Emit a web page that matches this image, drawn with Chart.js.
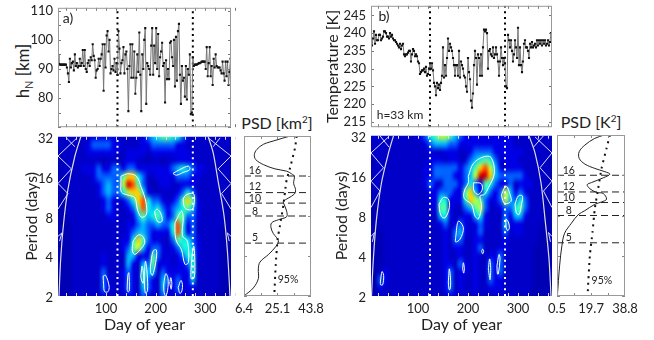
<!DOCTYPE html>
<html>
<head>
<meta charset="utf-8">
<script src="https://cdn.jsdelivr.net/npm/chart.js@4"></script>
<style>
  html, body { margin: 0; padding: 0; background: #fff; overflow: hidden; width: 654px; height: 340px; }
  #page { position: relative; width: 654px; height: 340px; overflow: hidden; }
  canvas { position: absolute; }
  .lbl { position: absolute; font-family: Lato, 'Open Sans', sans-serif; color: #222; white-space: nowrap; line-height: 1; }
  .lbl sub, .lbl sup { font-size: 62%; line-height: 0; }
  .rot { transform: translate(-50%, -50%) rotate(-90deg); }
  .ctr { transform: translate(-50%, -50%); }
</style>
</head>
<body>
<div id="page">
  <div class="lbl rot" style="left:22px;top:71px;font-size:17px">h<sub>N</sub> [km]</div>
  <div class="lbl ctr" style="left:277px;top:123px;font-size:16px">PSD [km<sup>2</sup>]</div>
  <div class="lbl ctr" style="left:591px;top:122px;font-size:16px">PSD [K<sup>2</sup>]</div>
</div>
<script>
// hN series, one value every 2 days starting at day 3
const hnValues = [95,91.7,91.5,91.5,91.5,91.5,91.5,91.5,91.5,90.5,88.5,85.5,93.5,90.5,92,92.5,89.5,95,91,92,90.5,91,93.5,91,92,96.5,91,96.5,90,89,92,93,91,94,93,98.5,94.5,93,87,89.5,90,93.5,91,93.5,95,98.5,82.5,98.5,90.5,101.5,103,96,100,88.5,90,91,89.5,93.5,89,92,88,103,97,88.5,92,93,97.5,88.5,95,96,90,75.5,91,98.5,87,98.5,87,96,81.5,87,95,89,102.5,88,75.5,95,90,100,104,78,92,91,90,88,98,104,88,98,92,104,90,102,87.5,94,96,99,91,92,78.5,93,86.5,90,86.5,99,99.5,94,91,100,84,101,86,103,105.5,88,78,91,86,87,80.5,91,79.5,90,88,95,74.5,75,94,91,91.5,91.5,91.5,91.7,92,92,92.2,92.5,92.5,92.5,92.5,90,97.5,87.5,92,97.5,87.5,91,84.5,93.5,90.5,95,91,90.5,90.5,90.5,89.5,88.5,92.5,88.5,86,92.5,87.5,92.5,84.5,89,93.5];
// temperature series at 33 km, one value every 2 days starting at day 6
const tempValues = [240.8,236.5,238.5,240.5,237,239.5,238,238,239.5,239.5,238,238.5,239,240.5,240.5,240,239,239,238.5,240,239,239.5,238.5,238,238,237.5,237,236.5,236,237,235.5,236.5,237,234,233.5,234,234,234.5,235,235,232,234,235.5,235,233.5,234,233.5,232,231.5,228.5,229,229.5,229.5,230,229,230.5,228,228.5,230,231.5,230,231.5,229.5,226,225,222.5,226,224.5,225.5,224,226,228,236,227.5,231,228,233,238.5,235,237,236,235,233,231,228,231,231,228,235,227.5,232,231,230,228,227.5,225,223.5,233,229,227,221,219,223,231,235,233,225.5,234,233,228,234,228,236,241,240.5,241,240,230,235,235.5,234,233.5,236,233,234,236,234,232,228,232,236,233,231,233,231.5,225,224.5,239.5,238,236,238,235,232,234,238,236,233,241.5,231,236,231,229,232,237,238,236,236,235,233,237,236,237.5,236,236.5,237,236,238,236.5,238,237,238,236.5,238,237,238,236.5,237,238,236.5,237.5,240];
const hnTicks = [80, 90, 100, 110];
const tempTicks = [215, 220, 225, 230, 235, 240, 245];
const dayTicks = [100, 200, 300];
const periodTicks = [2, 4, 8, 16, 32];
const psdTicksA = [6.4, 25.1, 43.8];
const psdTicksB = [0.5, 19.7, 38.8];
const eventDaysA = [123, 275];
const eventDaysB = [124, 274];

// spectrum cells: rows follow heatPeriods, columns are days 5, 15, 25 ...
const heatPeriods = [32,27.9,24.3,21.1,18.4,16,13.9,12.1,10.6,9.2,8,7,6.1,5.3,4.6,4,3.5,3,2.6,2.3,2];
const heatDaysA = [5,15,25,35,45,55,65,75,85,95,105,115,125,135,145,155,165,175,185,195,205,215,225,235,245,255,265,275,285,295,305,315,325,335,345,355];
const heatDaysB = [5,15,25,35,45,55,65,75,85,95,105,115,125,135,145,155,165,175,185,195,205,215,225,235,245,255,265,275,285,295,305,315,325,335,345,355,365];
const heatA = [
  [1,1,1,1,1,1,1,2,2,2,2,2,1,1,1,1,2,2,3,4,5,6,6,5,5,3,2,1,1,1,1,1,1,1,1,1],
  [1,1,1,1,1,1,2,3,3,3,3,2,2,1,1,1,1,2,2,3,3,3,3,3,2,2,1,1,1,1,1,1,1,1,1,1],
  [0,1,1,1,1,1,2,2,2,2,2,2,1,1,2,2,2,2,1,2,2,2,2,2,2,2,2,1,1,1,1,1,1,1,1,0],
  [0,1,1,1,1,1,1,1,1,0,1,1,0,1,2,2,1,1,0,1,1,0,1,1,2,2,2,2,1,1,1,1,1,1,1,0],
  [0,1,1,1,1,2,2,2,3,2,2,3,3,2,3,3,2,2,2,2,2,2,2,3,4,5,4,3,2,2,1,1,1,1,1,0],
  [0,1,1,1,1,1,1,2,3,3,3,3,3,6,8,8,5,3,1,1,2,2,2,2,3,3,3,2,2,1,1,1,1,1,1,0],
  [0,1,1,1,1,1,1,1,2,3,4,3,3,7,10,9,6,3,1,0,1,2,2,1,1,2,2,2,1,1,1,1,1,1,1,0],
  [0,0,1,1,1,1,1,1,2,3,4,3,3,5,7,8,8,5,2,1,1,1,1,1,2,3,5,3,1,1,1,1,1,1,0,0],
  [0,0,1,1,1,1,1,1,1,2,3,2,1,2,3,5,8,9,5,3,3,2,1,2,3,6,8,6,2,1,1,1,1,1,0,0],
  [0,0,1,1,1,1,1,1,1,2,3,2,1,1,2,3,6,9,5,4,5,3,2,3,4,5,6,4,2,1,1,1,1,1,0,0],
  [0,0,1,1,1,1,1,1,1,1,2,2,1,1,1,2,4,6,4,5,6,4,2,3,6,6,3,3,2,1,1,1,1,1,0,0],
  [0,0,0,1,1,1,1,1,1,1,1,1,1,1,2,2,3,4,3,3,4,3,3,5,9,5,2,3,1,1,1,1,1,1,0,0],
  [0,0,0,1,1,1,1,1,1,1,1,1,1,1,2,3,4,4,3,2,2,2,2,5,9,5,2,3,1,1,1,1,1,0,0,0],
  [0,0,0,1,1,1,1,1,1,1,1,1,1,2,2,5,8,6,3,2,2,1,1,3,6,5,5,3,2,1,1,1,1,0,0,0],
  [0,0,0,1,1,1,1,1,1,1,1,1,1,2,3,6,7,4,2,3,3,2,1,2,3,5,5,4,2,1,1,1,1,0,0,0],
  [0,0,0,1,1,1,1,1,1,2,1,1,1,1,4,4,2,2,2,6,3,1,2,1,2,3,5,5,2,1,1,1,1,0,0,0],
  [0,0,0,1,1,1,1,1,1,2,1,1,1,1,4,2,1,4,3,6,2,2,2,1,2,2,3,5,1,1,1,1,1,0,0,0],
  [0,0,0,1,1,1,1,1,1,3,1,1,1,2,3,2,1,5,4,4,1,3,2,2,2,2,2,5,1,1,1,1,1,0,0,0],
  [0,0,0,1,1,1,1,1,1,3,2,1,1,2,3,2,1,5,3,2,1,4,3,2,3,2,2,4,1,1,1,1,1,0,0,0],
  [0,0,0,1,1,1,1,1,1,3,2,1,1,2,3,2,1,4,3,2,1,4,2,2,3,2,2,2,1,1,1,1,1,0,0,0],
  [0,0,0,1,1,1,1,1,1,2,1,1,1,1,2,2,1,3,2,1,1,3,2,1,2,1,1,1,1,1,1,1,0,0,0,0]
];
const heatB = [
  [1,1,1,1,1,1,1,1,1,1,2,3,5,6,7,7,6,4,3,2,2,2,2,2,2,2,2,2,2,1,1,1,1,1,1,1,1],
  [1,1,1,1,1,1,1,1,1,1,1,2,3,4,4,4,3,3,2,2,2,2,2,2,2,2,2,2,2,1,1,1,1,1,1,1,1],
  [1,1,1,1,1,1,1,1,1,1,1,1,2,1,1,2,2,2,1,1,2,3,3,3,3,2,2,2,2,2,2,1,1,1,1,1,1],
  [0,1,1,1,1,1,1,1,1,1,1,1,2,2,2,1,2,2,1,1,3,4,5,6,5,3,1,2,2,2,1,1,1,1,1,1,0],
  [0,1,1,1,1,1,1,1,1,1,1,2,2,3,3,3,3,3,2,3,4,6,8,9,7,4,2,1,2,2,2,1,1,1,1,1,0],
  [0,1,1,1,1,1,1,1,1,1,1,2,2,3,3,3,3,2,2,3,4,7,10,10,8,4,3,3,3,3,3,2,1,1,1,1,0],
  [0,1,1,1,1,1,1,1,1,1,1,2,3,2,1,3,3,3,2,3,5,3,2,6,5,3,2,2,3,1,2,2,2,1,1,1,0],
  [0,1,1,1,1,1,1,1,1,1,1,1,2,2,3,3,3,2,2,6,8,4,2,5,3,2,3,7,4,2,3,2,1,1,1,1,0],
  [0,0,1,1,1,1,1,1,1,1,1,1,2,2,5,5,2,2,2,5,8,7,6,3,2,2,3,7,4,3,5,3,1,1,1,0,0],
  [0,0,1,1,1,1,1,1,1,1,1,1,1,2,6,6,2,1,1,3,4,6,7,3,1,1,2,3,3,5,6,3,1,1,1,0,0],
  [0,0,1,1,1,1,1,1,1,1,1,1,1,1,4,5,2,1,1,2,2,4,5,2,1,1,1,3,2,4,4,2,1,1,1,0,0],
  [0,0,1,1,1,1,1,1,1,1,1,1,1,1,2,3,1,2,3,2,1,2,3,2,1,1,1,4,2,2,2,1,1,1,1,0,0],
  [0,0,0,1,1,1,1,1,1,1,1,1,1,1,1,2,1,3,4,2,1,2,3,1,1,1,1,3,1,2,2,1,1,1,0,0,0],
  [0,0,0,1,1,1,1,1,1,1,1,1,1,1,1,2,1,3,3,1,1,2,2,1,1,1,1,2,1,1,1,1,1,1,0,0,0],
  [0,0,0,1,1,1,1,1,1,1,1,1,1,1,1,2,1,2,2,1,1,2,3,1,1,1,2,2,1,1,1,1,1,0,0,0,0],
  [0,0,0,1,1,1,1,1,1,1,1,1,1,1,1,2,1,1,2,1,1,2,1,1,2,2,3,1,1,1,1,1,1,0,0,0,0],
  [0,0,0,1,1,1,1,1,1,1,1,1,1,1,1,2,2,1,3,2,1,2,1,1,3,2,3,1,1,1,1,1,1,0,0,0,0],
  [0,0,1,2,1,1,1,1,1,1,1,1,1,1,1,2,3,1,2,2,1,2,1,1,3,2,3,1,1,1,1,1,1,0,0,0,0],
  [0,0,3,2,1,1,1,1,1,1,1,1,1,1,1,2,3,1,2,1,1,2,1,1,3,2,2,1,1,1,1,1,1,0,0,0,0],
  [0,0,2,1,1,1,1,1,1,1,1,1,1,1,1,2,3,1,2,1,1,2,1,1,2,2,2,1,1,1,1,1,1,0,0,0,0],
  [0,0,1,1,1,1,1,1,1,1,1,1,1,1,1,1,2,1,1,1,1,1,1,1,1,1,1,1,1,1,1,1,0,0,0,0,0]
];
const heatColors = ['#0000b4','#0000c8','#0000e6','#0060ff','#00b8ff','#10f0e0','#50ffa8','#c0ff38','#ffd000','#ff5000','#c80000'];

// 95% significance outlines, [day, period]
const contoursA = [
  [[130,16.1],[144,16.8],[161,16.1],[171,13.2],[180,10.4],[181.5,8.3],[171,7.9],[163,9.1],[158,11.1],[144,11.6],[131,12.2],[130,14.4]],
  [[154.5,5.2],[164.6,5.77],[173,5.7],[178,5.07],[168,4.45],[158,4.13],[153,4.38]],
  [[198,8.77],[203,9.07],[210,8.46],[213,7.37],[205,7.26],[200,7.95]],
  [[239,7.16],[252,8.77],[255.5,7.83],[254,5.7],[264,5.2],[266,3.58],[259,3.48],[252,4.5],[242,5.2],[239,6.02]],
  [[255.5,10.8],[261,11.6],[276,11.9],[278,10.4],[274,9.07],[262,9.07],[257,9.6]],
  [[235,16.9],[249,18.1],[266,19.2],[269,18.1],[255.5,17.2],[242,16.4]],
  [[94,2.83],[99,2.87],[106,2.38],[104,2.16],[97,2.16],[95,2.45]],
  [[142.4,2.25],[144,2.9],[146,3],[146.8,2.19],[144,2.15]],
  [[170,2.83],[172.7,3.37],[176,2.75],[175,2.5],[171.8,2.6]],
  [[177,2.83],[179.5,3.67],[183,2.9],[183.5,2.19],[179,2.11]],
  [[189.5,3.37],[195,4.38],[201.6,4.45],[200,3.58],[193.6,2.87],[190,3]],
  [[216.5,2.5],[220.5,2.95],[225,2.7],[224,2.19],[220,2],[216.5,2.19]],
  [[228.6,2.5],[230.6,2.75],[232.6,2.5],[231.3,2.25]],
  [[245.4,2.32],[251,2.62],[254,2.45],[253,2.19],[249,2.09]],
  [[271,3],[273.7,4.13],[277,4.77],[279,3.58],[277.7,2.75],[272,2.7]]
];
const contoursB = [
  [[200.7,15.9],[210.7,19.8],[230.7,22.2],[246,22],[252.7,16.8],[240.7,13],[232.7,11.6],[224,11.3],[227,9.5],[220.7,7.6],[214,8],[207,9.8],[192.7,10.8],[192.7,12.3],[200.7,14.2]],
  [[210.7,14.2],[226,14],[228.7,12.7],[220.7,11.6],[212,12.3]],
  [[142,9.8],[150.7,11],[160.7,10.7],[162.7,9.25],[155,7.8],[148.7,7.8],[144,8.5]],
  [[267,11.6],[276,13.4],[284,11.6],[286,10.3],[274,9.9],[268.7,10.7]],
  [[294,9.8],[300.7,11.3],[308.7,11.3],[307,9.8],[302,8.2],[297,8.4]],
  [[175.3,5.5],[180.7,7.3],[190.7,6.5],[184,5.35],[175.3,5.1]],
  [[276,7.6],[280.7,7.2],[282.7,6.5],[279.3,6.2],[276,6.7]],
  [[24.7,2.55],[28,3.05],[31.3,2.85],[29.3,2.43],[25.3,2.43]],
  [[160.7,2.55],[162.7,3.2],[165.3,2.55],[164,2.24],[162,2.24]],
  [[189.3,3.2],[190.7,3.56],[192.7,3.2],[191.3,2.97]],
  [[227.3,4.34],[229.3,4.5],[231.3,4.32],[229.3,4.15]],
  [[240.7,3.2],[243.3,3.8],[245.3,3.2],[244,2.65]],
  [[258,3.39],[262,4.1],[264,3.8],[260.7,2.93],[258.7,2.93]]
];
// cone of influence and its hatching, [day, period]
const coneA = [
  [[5,2],[8.4,3.78],[14.4,7.16],[23,12.8],[37,22.8],[49,32]],
  [[350,2],[345,4.25],[338,8.06],[326,14.8],[316,24.3],[306,32]]
];
const hatchA = [
  [[41.4,31.4],[3,22.9],[30,18.3],[3,14.2],[23,11.9],[3,9.1]],
  [[20,31.4],[37,26.9]],
  [[3,5.66],[11,6],[6,5.2]],
  [[306,31.4],[352,22.9],[326,18.3],[352,14.2],[333,11.9],[352,9.1]],
  [[330,31.4],[316,26.9]],
  [[352,5.66],[344.5,6],[348.5,5.2]]
];
const coneB = [
  [[7,2],[10.7,3.8],[17,7.6],[27,14.2],[41,23.8],[51,32]],
  [[366,2],[362,3.8],[354,7.6],[346,14.2],[334,23.8],[322,32]]
];
const hatchB = [
  [[41,31.4],[6,23.8],[31,18.4],[6,14.6],[24,12.3],[6,9.25]],
  [[24,32],[42,26.3]],
  [[6,5.6],[13,6],[8.7,5.1]],
  [[334,31.4],[368,23.8],[344,18.4],[368,14.6],[351,12.3],[368,9.25]],
  [[351,32],[331,26.3]],
  [[368,5.6],[361,6],[365,5.1]]
];

// global spectra
const psdPeriodsA = [32,29.6,27.7,25.3,23.2,21.3,19.5,18.1,17.4,16.6,15.9,14.1,12.6,11.7,10.9,10.3,9.7,8.7,7.9,7.5,7.1,6.5,5.9,5.2,4.7,4.1,3.6,3.2,2.7,2.3,2];
const psdValuesA = [32.1,23.7,17.2,13.5,12.2,12.9,17.2,23.7,30.2,33,34.5,34.1,35.2,34.5,31.1,28.4,28.9,30.2,30.2,25.6,21.8,21.5,22.8,25.6,24.1,20,15.3,14.4,14.4,11.6,6.4];
const sigPeriodsA = [32,26.1,18.4,15,12.2,9.7,6.8,5.4,3.4,2];
const sigValuesA = [35.8,34.9,32.1,30.2,29.3,28.4,26.5,25.2,24.1,23.3];
const psdPeriodsB = [32,30.2,26.9,24,21.4,19.4,18,17,16.3,15.3,14.1,13.6,12.7,11.9,11.7,10.6,10.1,9.7,8.7,8.1,7,5.9,4.8,3.4,2];
const psdValuesB = [27.1,21.8,16.2,13,13,16.2,21.8,27.5,30.3,26.5,19.9,17.5,19,22.8,26.5,28.4,25.6,21.8,16.2,12.4,8.6,4.8,3.3,2,0.7];
const sigPeriodsB = [32,25.4,18,12.7,9,6,4,2];
const sigValuesB = [30.3,28.4,25.6,23.7,21.8,20.5,19,17.7];
const markedPeriods = [16, 12, 10, 8, 5];
const markedNames = ['16', '12', '10', '8', '5'];
const markedLabelPosA = [17.7, 13.3, 10.8, 8.7, 5.5];
const markedLabelPosB = [17.3, 13.1, 10.9, 8.7, 5.5];

const FONT = "Lato, 'Open Sans', sans-serif";
const TEXT = '#222';
Chart.defaults.animation = false;
Chart.defaults.font.family = FONT;
Chart.defaults.color = TEXT;

const page = document.getElementById('page');

function toPoints(pairs) {
  return pairs.map(p => ({ x: p[0], y: p[1] }));
}

function lineSet(pairs, color, width, extra) {
  return Object.assign({ data: toPoints(pairs), borderColor: color, borderWidth: width, pointRadius: 0, showLine: true, fill: false }, extra || {});
}

function zip(xs, ys) {
  return xs.map((x, i) => [x, ys[i]]);
}

// frame and small inward ticks
function framePlugin(color, frameColor, xMarks, yMarks) {
  return {
    id: 'frameTicks',
    afterDatasetsDraw(chart) {
      const a = chart.chartArea, c = chart.ctx, xs = chart.scales.x, ys = chart.scales.y;
      c.save();
      c.lineWidth = 1;
      c.strokeStyle = color;
      c.beginPath();
      xMarks.forEach(v => {
        const p = Math.round(xs.getPixelForValue(v)) + 0.5;
        c.moveTo(p, a.top); c.lineTo(p, a.top + 3);
        c.moveTo(p, a.bottom); c.lineTo(p, a.bottom - 3);
      });
      yMarks.forEach(v => {
        const p = Math.round(ys.getPixelForValue(v)) + 0.5;
        c.moveTo(a.left, p); c.lineTo(a.left + 3, p);
        c.moveTo(a.right, p); c.lineTo(a.right - 3, p);
      });
      c.stroke();
      if (frameColor) {
        c.strokeStyle = frameColor;
        c.strokeRect(a.left + 0.5, a.top + 0.5, a.right - a.left - 1, a.bottom - a.top - 1);
      }
      c.restore();
    }
  };
}

// text placed at data positions
function notesPlugin(notes) {
  return {
    id: 'notes',
    afterDraw(chart) {
      const c = chart.ctx;
      c.save();
      c.fillStyle = TEXT;
      c.textAlign = 'center';
      c.textBaseline = 'middle';
      notes.forEach(n => {
        c.font = n.size + 'px ' + FONT;
        c.fillText(n.text, chart.scales.x.getPixelForValue(n.x), chart.scales.y.getPixelForValue(n.y));
      });
      c.restore();
    }
  };
}

// spectrum cells painted through the scales, smoothed when scaled up
function heatPlugin(grid, days) {
  const src = document.createElement('canvas');
  src.width = days.length;
  src.height = heatPeriods.length;
  const sc = src.getContext('2d');
  grid.forEach((row, r) => row.forEach((v, d) => {
    sc.fillStyle = heatColors[v];
    sc.fillRect(d, r, 1, 1);
  }));
  return {
    id: 'heat',
    beforeDatasetsDraw(chart) {
      const a = chart.chartArea, c = chart.ctx, xs = chart.scales.x, ys = chart.scales.y;
      const x0 = xs.getPixelForValue(days[0]), x1 = xs.getPixelForValue(days[days.length - 1]);
      const y0 = ys.getPixelForValue(heatPeriods[0]), y1 = ys.getPixelForValue(heatPeriods[heatPeriods.length - 1]);
      const w = (x1 - x0) / (days.length - 1), h = (y1 - y0) / (heatPeriods.length - 1);
      c.save();
      c.beginPath();
      c.rect(a.left, a.top, a.right - a.left, a.bottom - a.top);
      c.clip();
      c.imageSmoothingEnabled = true;
      c.imageSmoothingQuality = 'high';
      c.drawImage(src, x0 - w / 2, y0 - h / 2, w * days.length, h * heatPeriods.length);
      c.restore();
    }
  };
}

// box = plot area in page pixels, m = room kept around it inside the canvas
function makeChart(box, m, datasets, scales, plugins) {
  const cv = document.createElement('canvas');
  const w = box.right - box.left + m.left + m.right;
  const h = box.bottom - box.top + m.top + m.bottom;
  cv.width = w; cv.height = h;
  cv.style.left = (box.left - m.left) + 'px';
  cv.style.top = (box.top - m.top) + 'px';
  cv.style.width = w + 'px';
  cv.style.height = h + 'px';
  page.appendChild(cv);
  scales.x.afterFit = s => { s.height = m.bottom; };
  scales.y.afterFit = s => { s.width = m.left; };
  return new Chart(cv.getContext('2d'), {
    type: 'scatter',
    data: { datasets },
    plugins,
    options: {
      responsive: false,
      events: [],
      layout: { padding: { top: m.top, right: m.right, left: 0, bottom: 0 } },
      plugins: { legend: { display: false }, tooltip: { enabled: false }, title: { display: false } },
      scales
    }
  });
}

function axisCommon(min, max, tickList, size, pad) {
  return {
    min, max,
    grid: { display: false, drawTicks: false },
    border: { display: false },
    afterBuildTicks: s => { s.ticks = tickList.map(v => ({ value: v })); },
    ticks: { display: tickList.length > 0, autoSkip: false, maxRotation: 0, padding: pad, font: { size }, color: TEXT, callback: v => String(v) }
  };
}

function eventLine(day, lo, hi, color) {
  return lineSet([[day, lo], [day, hi]], color, 2, { borderDash: [2, 3.7] });
}

function seriesPanel(box, values, start, xRange, yRange, yTicks, events, ylabel, notes) {
  const y = axisCommon(yRange[0], yRange[1], yTicks, 13, 5);
  if (ylabel) y.title = { display: true, text: ylabel, font: { size: 16 }, padding: { top: 2, bottom: 0 } };
  const sets = [lineSet(zip(values.map((_, i) => start + i * 2), values), '#777', 1, {
    pointRadius: 1.5, pointStyle: 'rect', pointBackgroundColor: '#111', pointBorderWidth: 0
  })];
  events.forEach(d => sets.push(eventLine(d, yRange[0], yRange[1], '#000')));
  const minor = [20,40,60,80,100,120,140,160,180,200,220,240,260,280,300,320,340,360];
  const yMinor = [];
  for (let v = Math.ceil(yRange[0] / 5) * 5; v <= yRange[1]; v += 5) yMinor.push(v);
  makeChart(box, { left: box.left - 4 < 60 ? 58 : 50, top: 12, right: 8, bottom: 8 }, sets, {
    x: axisCommon(xRange[0], xRange[1], [], 13, 0), y
  }, [framePlugin('#777', '#999', minor, yMinor), notesPlugin(notes)]);
}

function heatPanel(box, grid, days, contours, cone, hatch, xRange, events, yAxisRoom, ylabelPad) {
  const sets = [];
  hatch.forEach(p => sets.push(lineSet(p, '#d8d8ff', 1)));
  cone.forEach(p => sets.push(lineSet(p, '#ddd', 1.2, { tension: 0.3 })));
  contours.forEach(p => sets.push(lineSet(p.concat([p[0]]), '#fff', 1, { tension: 0.35 })));
  events.forEach(d => sets.push(eventLine(d, 2, 32, '#fff')));
  const y = axisCommon(2, 32, periodTicks, 13, 5);
  y.type = 'logarithmic';
  y.ticks.labelOffset = 2;
  y.title = { display: true, text: 'Period (days)', font: { size: 16 }, padding: { top: ylabelPad, bottom: 0 } };
  const x = axisCommon(xRange[0], xRange[1], dayTicks, 13, 5);
  x.title = { display: true, text: 'Day of year', font: { size: 16 }, padding: { top: 0, bottom: 4 } };
  const minor = [20,40,60,80,100,120,140,160,180,200,220,240,260,280,300,320,340,360];
  makeChart(box, { left: yAxisRoom, top: 12, right: 8, bottom: 42 }, sets, { x, y }, [
    heatPlugin(grid, days), framePlugin('#ddd', null, minor, [])
  ]);
}

function psdPanel(box, range, ticks, perA, valA, perS, valS, labelPos, labelX, pctX, pctY) {
  const sets = [];
  markedPeriods.forEach(p => sets.push(lineSet([[range[0], p], [range[1], p]], '#222', 1, { borderDash: [7, 4] })));
  sets.push(lineSet(zip(valA, perA), '#222', 1, { tension: 0.35 }));
  sets.push(lineSet(zip(valS, perS), '#111', 2, { borderDash: [2, 4.5], tension: 0.2 }));
  const y = axisCommon(2, 32, [], 13, 0);
  y.type = 'logarithmic';
  const x = axisCommon(range[0], range[1], ticks, 13, 5);
  const notes = markedNames.map((t, i) => ({ text: t, x: labelX, y: labelPos[i], size: 10.5 }));
  notes.push({ text: '95%', x: pctX, y: pctY, size: 10.5 });
  const xMarks = [range[0] + (range[1] - range[0]) / 4, (range[0] + range[1]) / 2, range[0] + (range[1] - range[0]) * 3 / 4];
  makeChart(box, { left: 20, top: 12, right: 20, bottom: 30 }, sets, { x, y }, [
    framePlugin('#888', '#999', xMarks, periodTicks), notesPlugin(notes)
  ]);
}

seriesPanel({ left: 58, top: 7, right: 231, bottom: 132 }, hnValues, 3, [3, 352], [70, 111], hnTicks, eventDaysA, null,
  [{ text: 'a)', x: 23, y: 107.4, size: 14 }]);
heatPanel({ left: 58, top: 136, right: 231, bottom: 296 }, heatA, heatDaysA, contoursA, coneA, hatchA, [3, 352], eventDaysA, 58, 22);
psdPanel({ left: 244, top: 136, right: 311, bottom: 296 }, [6.4, 43.8], psdTicksA, psdPeriodsA, psdValuesA, sigPeriodsA, sigValuesA, markedLabelPosA, 12.5, 31, 2.66);

seriesPanel({ left: 371, top: 5, right: 552, bottom: 132 }, tempValues, 6, [6, 368], [213.5, 247.7], tempTicks, eventDaysB, 'Temperature [K]',
  [{ text: 'b)', x: 32, y: 244.7, size: 14 }, { text: 'h=33 km', x: 64, y: 217, size: 12 }]);
heatPanel({ left: 371, top: 135, right: 552, bottom: 296 }, heatB, heatDaysB, contoursB, coneB, hatchB, [6, 368], eventDaysB, 50, 11);
psdPanel({ left: 557, top: 135, right: 625, bottom: 296 }, [0.5, 38.8], psdTicksB, psdPeriodsB, psdValuesB, sigPeriodsB, sigValuesB, markedLabelPosB, 7.1, 25.8, 2.62);
</script>
</body>
</html>
